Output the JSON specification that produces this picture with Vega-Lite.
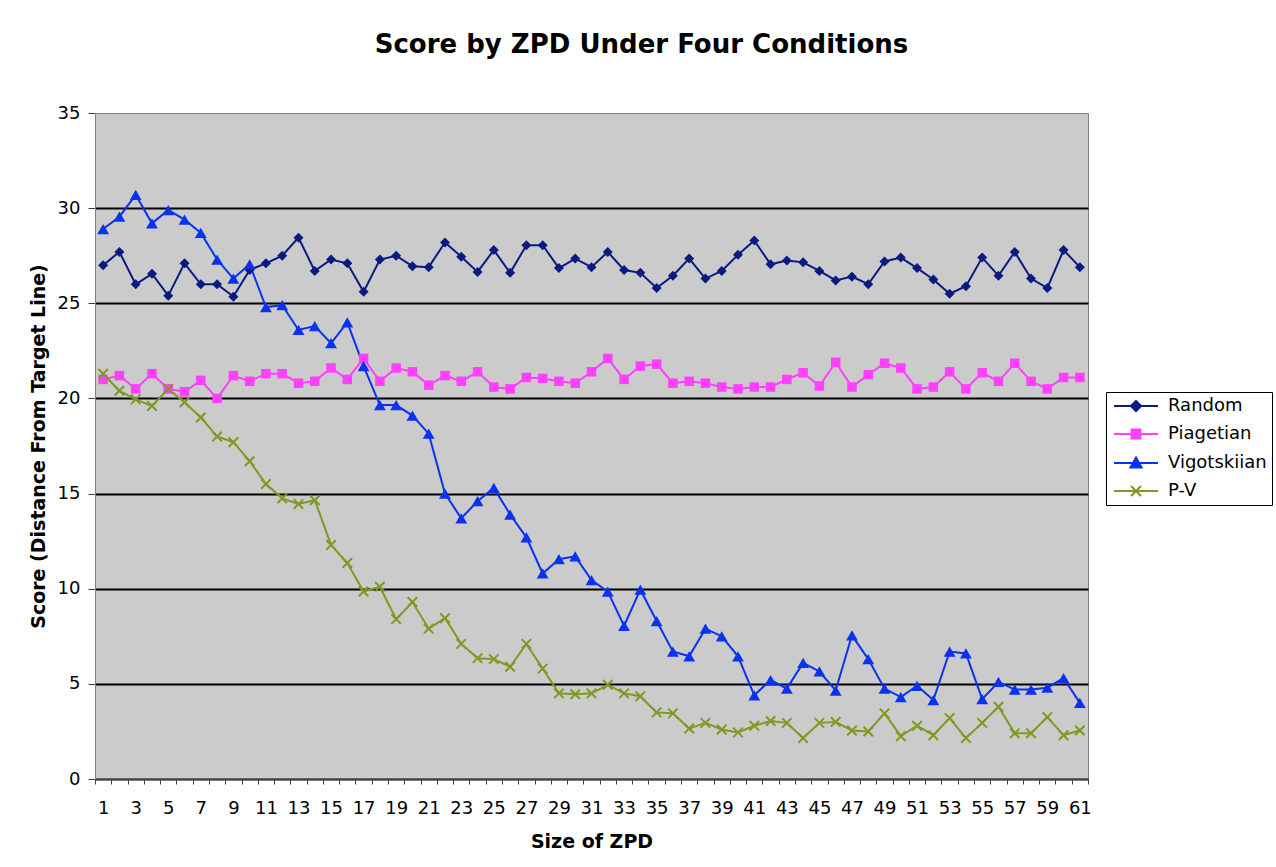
{
  "$schema": "https://vega.github.io/schema/vega-lite/v6.json",
  "width": 993,
  "height": 666,
  "autosize": "none",
  "padding": {"left": 95, "top": 113, "right": 188, "bottom": 88},
  "background": "white",
  "title": {"text": "Score by ZPD Under Four Conditions", "fontSize": 26, "fontWeight": "bold", "font": "DejaVu Sans", "color": "black", "anchor": "middle", "offset": 46, "dx": 50},
  "config": {
    "view": {"stroke": "#808080", "strokeWidth": 1, "fill": "#CBCBCB"},
    "font": "DejaVu Sans"
  },
  "data": {"values": [
    {"zpd": 1, "Random": 27.0, "Piagetian": 21.0, "Vigotskiian": 28.9, "P-V": 21.3},
    {"zpd": 2, "Random": 27.7, "Piagetian": 21.2, "Vigotskiian": 29.55, "P-V": 20.4},
    {"zpd": 3, "Random": 26.0, "Piagetian": 20.5, "Vigotskiian": 30.7, "P-V": 19.95},
    {"zpd": 4, "Random": 26.55, "Piagetian": 21.3, "Vigotskiian": 29.2, "P-V": 19.6},
    {"zpd": 5, "Random": 25.4, "Piagetian": 20.5, "Vigotskiian": 29.9, "P-V": 20.5},
    {"zpd": 6, "Random": 27.1, "Piagetian": 20.35, "Vigotskiian": 29.4, "P-V": 19.8},
    {"zpd": 7, "Random": 26.0, "Piagetian": 20.95, "Vigotskiian": 28.7, "P-V": 19.0},
    {"zpd": 8, "Random": 26.0, "Piagetian": 20.0, "Vigotskiian": 27.3, "P-V": 18.0},
    {"zpd": 9, "Random": 25.35, "Piagetian": 21.2, "Vigotskiian": 26.3, "P-V": 17.7},
    {"zpd": 10, "Random": 26.75, "Piagetian": 20.9, "Vigotskiian": 27.05, "P-V": 16.7},
    {"zpd": 11, "Random": 27.1, "Piagetian": 21.3, "Vigotskiian": 24.8, "P-V": 15.5},
    {"zpd": 12, "Random": 27.5, "Piagetian": 21.3, "Vigotskiian": 24.9, "P-V": 14.75},
    {"zpd": 13, "Random": 28.45, "Piagetian": 20.8, "Vigotskiian": 23.6, "P-V": 14.45},
    {"zpd": 14, "Random": 26.7, "Piagetian": 20.9, "Vigotskiian": 23.8, "P-V": 14.65},
    {"zpd": 15, "Random": 27.3, "Piagetian": 21.6, "Vigotskiian": 22.9, "P-V": 12.3},
    {"zpd": 16, "Random": 27.1, "Piagetian": 21.0, "Vigotskiian": 24.0, "P-V": 11.35},
    {"zpd": 17, "Random": 25.6, "Piagetian": 22.1, "Vigotskiian": 21.7, "P-V": 9.85},
    {"zpd": 18, "Random": 27.3, "Piagetian": 20.9, "Vigotskiian": 19.65, "P-V": 10.1},
    {"zpd": 19, "Random": 27.5, "Piagetian": 21.6, "Vigotskiian": 19.65, "P-V": 8.4},
    {"zpd": 20, "Random": 26.95, "Piagetian": 21.4, "Vigotskiian": 19.1, "P-V": 9.3},
    {"zpd": 21, "Random": 26.9, "Piagetian": 20.7, "Vigotskiian": 18.15, "P-V": 7.9},
    {"zpd": 22, "Random": 28.2, "Piagetian": 21.2, "Vigotskiian": 15.0, "P-V": 8.45},
    {"zpd": 23, "Random": 27.45, "Piagetian": 20.9, "Vigotskiian": 13.7, "P-V": 7.1},
    {"zpd": 24, "Random": 26.65, "Piagetian": 21.4, "Vigotskiian": 14.6, "P-V": 6.35},
    {"zpd": 25, "Random": 27.8, "Piagetian": 20.6, "Vigotskiian": 15.3, "P-V": 6.3},
    {"zpd": 26, "Random": 26.6, "Piagetian": 20.5, "Vigotskiian": 13.9, "P-V": 5.9},
    {"zpd": 27, "Random": 28.05, "Piagetian": 21.1, "Vigotskiian": 12.7, "P-V": 7.1},
    {"zpd": 28, "Random": 28.05, "Piagetian": 21.05, "Vigotskiian": 10.8, "P-V": 5.8},
    {"zpd": 29, "Random": 26.85, "Piagetian": 20.9, "Vigotskiian": 11.55, "P-V": 4.5},
    {"zpd": 30, "Random": 27.35, "Piagetian": 20.8, "Vigotskiian": 11.7, "P-V": 4.45},
    {"zpd": 31, "Random": 26.9, "Piagetian": 21.4, "Vigotskiian": 10.45, "P-V": 4.5},
    {"zpd": 32, "Random": 27.7, "Piagetian": 22.1, "Vigotskiian": 9.85, "P-V": 4.95},
    {"zpd": 33, "Random": 26.75, "Piagetian": 21.0, "Vigotskiian": 8.05, "P-V": 4.5},
    {"zpd": 34, "Random": 26.6, "Piagetian": 21.7, "Vigotskiian": 9.95, "P-V": 4.35},
    {"zpd": 35, "Random": 25.8, "Piagetian": 21.8, "Vigotskiian": 8.3, "P-V": 3.5},
    {"zpd": 36, "Random": 26.45, "Piagetian": 20.8, "Vigotskiian": 6.7, "P-V": 3.45},
    {"zpd": 37, "Random": 27.35, "Piagetian": 20.9, "Vigotskiian": 6.45, "P-V": 2.65},
    {"zpd": 38, "Random": 26.3, "Piagetian": 20.8, "Vigotskiian": 7.9, "P-V": 2.95},
    {"zpd": 39, "Random": 26.7, "Piagetian": 20.6, "Vigotskiian": 7.5, "P-V": 2.6},
    {"zpd": 40, "Random": 27.55, "Piagetian": 20.5, "Vigotskiian": 6.45, "P-V": 2.45},
    {"zpd": 41, "Random": 28.3, "Piagetian": 20.6, "Vigotskiian": 4.4, "P-V": 2.8},
    {"zpd": 42, "Random": 27.05, "Piagetian": 20.6, "Vigotskiian": 5.2, "P-V": 3.05},
    {"zpd": 43, "Random": 27.25, "Piagetian": 21.0, "Vigotskiian": 4.75, "P-V": 2.95},
    {"zpd": 44, "Random": 27.15, "Piagetian": 21.35, "Vigotskiian": 6.1, "P-V": 2.15},
    {"zpd": 45, "Random": 26.7, "Piagetian": 20.65, "Vigotskiian": 5.65, "P-V": 2.95},
    {"zpd": 46, "Random": 26.2, "Piagetian": 21.9, "Vigotskiian": 4.65, "P-V": 3.0},
    {"zpd": 47, "Random": 26.4, "Piagetian": 20.6, "Vigotskiian": 7.55, "P-V": 2.55},
    {"zpd": 48, "Random": 26.0, "Piagetian": 21.25, "Vigotskiian": 6.3, "P-V": 2.5},
    {"zpd": 49, "Random": 27.2, "Piagetian": 21.85, "Vigotskiian": 4.75, "P-V": 3.45},
    {"zpd": 50, "Random": 27.4, "Piagetian": 21.6, "Vigotskiian": 4.3, "P-V": 2.25},
    {"zpd": 51, "Random": 26.85, "Piagetian": 20.5, "Vigotskiian": 4.9, "P-V": 2.8},
    {"zpd": 52, "Random": 26.25, "Piagetian": 20.6, "Vigotskiian": 4.15, "P-V": 2.3},
    {"zpd": 53, "Random": 25.5, "Piagetian": 21.4, "Vigotskiian": 6.7, "P-V": 3.2},
    {"zpd": 54, "Random": 25.9, "Piagetian": 20.5, "Vigotskiian": 6.6, "P-V": 2.15},
    {"zpd": 55, "Random": 27.4, "Piagetian": 21.35, "Vigotskiian": 4.2, "P-V": 2.95},
    {"zpd": 56, "Random": 26.45, "Piagetian": 20.9, "Vigotskiian": 5.1, "P-V": 3.8},
    {"zpd": 57, "Random": 27.7, "Piagetian": 21.85, "Vigotskiian": 4.7, "P-V": 2.4},
    {"zpd": 58, "Random": 26.3, "Piagetian": 20.9, "Vigotskiian": 4.7, "P-V": 2.4},
    {"zpd": 59, "Random": 25.8, "Piagetian": 20.5, "Vigotskiian": 4.8, "P-V": 3.25},
    {"zpd": 60, "Random": 27.8, "Piagetian": 21.1, "Vigotskiian": 5.3, "P-V": 2.3},
    {"zpd": 61, "Random": 26.9, "Piagetian": 21.1, "Vigotskiian": 4.0, "P-V": 2.55}
  ]},
  "transform": [{"fold": ["Random", "Piagetian", "Vigotskiian", "P-V"], "as": ["series", "score"]}],
  "encoding": {
    "x": {
      "field": "zpd", "type": "ordinal",
      "scale": {"type": "band", "paddingInner": 0, "paddingOuter": 0},
      "bandPosition": 0.5,
      "axis": {
        "title": "Size of ZPD", "titleFontSize": 19, "titleFontWeight": "bold", "titleColor": "black", "titlePadding": 15,
        "labelExpr": "datum.value % 2 === 1 ? datum.label : ''",
        "labelAngle": 0, "labelOverlap": false, "labelFontSize": 18, "labelColor": "black", "labelPadding": 15,
        "tickBand": "extent", "tickSize": 5, "tickColor": "#404040", "domainColor": "#404040", "grid": false
      }
    },
    "y": {
      "field": "score", "type": "quantitative",
      "scale": {"domain": [0, 35], "nice": false},
      "axis": {
        "values": [0, 5, 10, 15, 20, 25, 30, 35],
        "title": "Score (Distance From Target Line)", "titleFontSize": 19, "titleFontWeight": "bold", "titleColor": "black", "titlePadding": 9,
        "labelFontSize": 18, "labelColor": "black", "labelPadding": 8,
        "tickSize": 7, "tickColor": "#404040", "domainColor": "#808080",
        "grid": true, "gridWidth": 2,
        "gridColor": {"condition": {"test": "datum.value === 35", "value": "transparent"}, "value": "black"}
      }
    },
    "color": {
      "field": "series", "type": "nominal",
      "scale": {"domain": ["Random", "Piagetian", "Vigotskiian", "P-V"], "range": ["#0A1A80", "#FF40FF", "#0A32F0", "#7E9A22"]},
      "legend": {"title": null, "orient": "none", "legendX": 1011, "legendY": 279, "labelFontSize": 18, "labelColor": "black", "strokeColor": "black", "fillColor": "white", "padding": 5, "rowPadding": 10, "symbolSize": 100, "symbolStrokeWidth": 2, "symbolOffset": 16, "labelOffset": 23, "symbolOpacity": 1}
    }
  },
  "layer": [
    {"mark": {"type": "line", "strokeWidth": 2}},
    {"transform": [{"filter": "datum.series === 'Random'"}], "mark": {"type": "point", "shape": "diamond", "filled": true, "opacity": 1, "size": 100}},
    {"transform": [{"filter": "datum.series === 'Piagetian'"}], "mark": {"type": "point", "shape": "square", "filled": true, "opacity": 1, "size": 90}},
    {"transform": [{"filter": "datum.series === 'Vigotskiian'"}], "mark": {"type": "point", "shape": "triangle-up", "filled": true, "opacity": 1, "size": 140}},
    {"transform": [{"filter": "datum.series === 'P-V'"}], "mark": {"type": "point", "shape": "M-1,-1L1,1M-1,1L1,-1", "filled": false, "opacity": 1, "size": 90, "strokeWidth": 2}},
    {
      "transform": [{"filter": "false"}],
      "mark": {"type": "point", "filled": true, "opacity": 1},
      "encoding": {
        "shape": {
          "field": "series", "type": "nominal",
          "scale": {"domain": ["Random", "Piagetian", "Vigotskiian", "P-V"], "range": [
            "M-4.4,0H4.4M0,-1L1,0L0,1L-1,0Z",
            "M-4.4,0H4.4M-0.9,-0.9H0.9V0.9H-0.9Z",
            "M-4.4,0H4.4M0,-1.1L1.1,0.9H-1.1Z",
            "M-4.4,0H4.4M-1,-1L1,1M-1,1L1,-1"
          ]},
          "legend": {"title": null, "orient": "none", "legendX": 1011, "legendY": 279, "labelFontSize": 18, "labelColor": "black", "strokeColor": "black", "fillColor": "white", "padding": 5, "rowPadding": 10, "symbolSize": 100, "symbolStrokeWidth": 2, "symbolOffset": 16, "labelOffset": 23, "symbolOpacity": 1}
        },
        "stroke": {
          "field": "series", "type": "nominal",
          "scale": {"domain": ["Random", "Piagetian", "Vigotskiian", "P-V"], "range": ["#0A1A80", "#FF40FF", "#0A32F0", "#7E9A22"]},
          "legend": {"title": null, "orient": "none", "legendX": 1011, "legendY": 279, "labelFontSize": 18, "labelColor": "black", "strokeColor": "black", "fillColor": "white", "padding": 5, "rowPadding": 10, "symbolSize": 100, "symbolStrokeWidth": 2, "symbolOffset": 16, "labelOffset": 23, "symbolOpacity": 1}
        }
      }
    }
  ]
}
